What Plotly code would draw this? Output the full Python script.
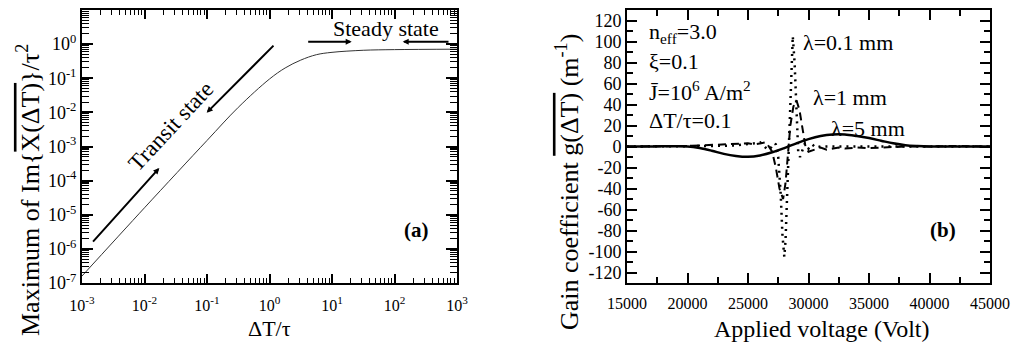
import plotly.graph_objects as go

# ---------------- data ----------------
# (a) maximum of Im{X(dT)} / tau^2 vs dT/tau
dt_ratio = [0.001, 0.01, 0.1, 0.316, 1.0, 1.78, 3.16, 5.62, 10.0, 31.6, 100.0, 1000.0]
max_im = [1.6e-7, 1.6e-5, 1.5e-3, 0.014, 0.095, 0.2, 0.34, 0.49, 0.575, 0.66, 0.69, 0.71]

# (b) gain coefficient vs applied voltage
v_5mm = [15000, 17000, 19000, 20000, 21000, 22000, 23000, 24000, 25000, 26000, 27000, 28000,
         29000, 30000, 31000, 32000, 33000, 34000, 35000, 36000, 37000, 38000, 39000, 40000, 45000]
g_5mm = [0, 0, 0.3, 0, -1.5, -4, -7, -9, -9.8, -8.5, -5.5, -1.5,
         3, 7, 10, 11.5, 11.5, 10, 8, 5.5, 3, 1.2, 0.4, 0, 0]

v_1mm = [15000, 18000, 20000, 21000, 22000, 23000, 24000, 25000, 25500, 26000, 26500, 27000,
         27300, 27600, 27900, 28100, 28300, 28500, 28750, 29000, 29250, 29500, 29750, 30000,
         30500, 31000, 31500, 32000, 32500, 33000, 34000, 35000, 36000, 37000, 38000, 40000, 42000, 45000]
g_1mm = [0, 0, 0.5, 1, 1.5, 2, 2.5, 3, 2, 3, 4, -5,
         -20, -40, -50, -35, -5, 20, 38, 44, 35, 15, 0, -5,
         -3, -1, -3, -2, -1, -2, -1, -1.5, -1, -0.5, 0, 0, 0.5, 0]

v_01mm = [15000, 20000, 22000, 24000, 25000, 25500, 26000, 26300, 26600, 26900, 27100, 27300,
          27500, 27700, 27850, 28000, 28100, 28250, 28400, 28550, 28700, 28850, 29000, 29150,
          29300, 29500, 29700, 30000, 30300, 30600, 31000, 45000]
g_01mm = [0, 0, 0.5, 1, 2, 3, 4, 1, -3, -1, 3, 2,
          -10, -45, -85, -105, -90, -40, 10, 70, 105, 80, 30, -5,
          -10, -3, 3, -2, 2, -1, 0, 0]

a_xticks = [1e-3, 1e-2, 1e-1, 1e0, 1e1, 1e2, 1e3]
a_xtext = ["10<sup>-3</sup>", "10<sup>-2</sup>", "10<sup>-1</sup>", "10<sup>0</sup>",
           "10<sup>1</sup>", "10<sup>2</sup>", "10<sup>3</sup>"]
a_yticks = [1e-7, 1e-6, 1e-5, 1e-4, 1e-3, 1e-2, 1e-1, 1e0, 1e1]
a_ytext = ["10<sup>-7</sup>", "10<sup>-6</sup>", "10<sup>-5</sup>", "10<sup>-4</sup>",
           "10<sup>-3</sup>", "10<sup>-2</sup>", "10<sup>-1</sup>", "10<sup>0</sup>", "10<sup>1</sup>"]
b_xticks = [15000, 20000, 25000, 30000, 35000, 40000, 45000]
b_xtext = ["15000", "20000", "25000", "30000", "35000", "40000", "45000"]
b_yticks = [-120, -100, -80, -60, -40, -20, 0, 20, 40, 60, 80, 100, 120]
b_ytext = ["-120", "-100", "-80", "-60", "-40", "-20", "0", "20", "40", "60", "80", "100", "120"]

# ---------------- figure ----------------
W, H = 1015, 346
FONT = "Liberation Serif, Times New Roman, serif"
BLACK = "#000000"

def px(x):
    return x / W

def py(y):
    return 1 - y / H

fig = go.Figure()

fig.add_trace(go.Scatter(x=dt_ratio, y=max_im, mode="lines", line=dict(color="#333333", width=1, shape="spline"),
                         xaxis="x", yaxis="y", showlegend=False))

fig.add_trace(go.Scatter(x=v_5mm, y=g_5mm, mode="lines", line=dict(color=BLACK, width=2.5, shape="spline"),
                         xaxis="x2", yaxis="y2", showlegend=False))
fig.add_trace(go.Scatter(x=v_1mm, y=g_1mm, mode="lines", line=dict(color=BLACK, width=2, dash="8px,5px"),
                         xaxis="x2", yaxis="y2", showlegend=False))
fig.add_trace(go.Scatter(x=v_01mm, y=g_01mm, mode="lines", line=dict(color=BLACK, width=2.5, dash="2px,5px"),
                         xaxis="x2", yaxis="y2", showlegend=False))

minor_a_x = [m * 10 ** e for e in range(-3, 3) for m in range(2, 10)]
minor_a_y = [m * 10 ** e for e in range(-7, 1) for m in range(2, 10)]

ydom = [py(283), py(10)]

axis_common = dict(showgrid=False, zeroline=False, showline=True, linecolor=BLACK, linewidth=2,
                   mirror="allticks", ticks="inside", tickcolor=BLACK, tickwidth=1.5,
                   automargin=False)

fig.update_layout(
    template="none",
    width=W, height=H,
    margin=dict(l=0, r=0, t=0, b=0, pad=0),
    paper_bgcolor="white", plot_bgcolor="white",
    font=dict(family=FONT, color=BLACK),
    xaxis=dict(axis_common, type="log", domain=[px(82), px(457)], range=[-3, 3], anchor="y",
               tickmode="array", tickvals=a_xticks, ticktext=a_xtext, ticklen=9,
               ticklabelstandoff=7,
               tickfont=dict(size=16, family=FONT),
               minor=dict(tickmode="array", tickvals=minor_a_x, ticks="inside", ticklen=5,
                          tickcolor=BLACK, tickwidth=1.2)),
    yaxis=dict(axis_common, type="log", domain=ydom, range=[-7, 1], anchor="x",
               tickmode="array", tickvals=a_yticks, ticktext=a_ytext, ticklen=11,
               tickfont=dict(size=18, family=FONT),
               minor=dict(tickmode="array", tickvals=minor_a_y, ticks="inside", ticklen=7,
                          tickcolor=BLACK, tickwidth=1.2)),
    xaxis2=dict(axis_common, domain=[px(627), px(990)], range=[15000, 45000], anchor="y2",
                tickmode="array", tickvals=b_xticks, ticktext=b_xtext, ticklen=10,
                ticklabelstandoff=5,
                tickfont=dict(size=16, family=FONT),
                minor=dict(dtick=2500, tick0=15000, ticks="inside", ticklen=6, tickcolor=BLACK, tickwidth=1.5)),
    yaxis2=dict(axis_common, domain=ydom, range=[-130, 130], anchor="x2",
                tickmode="array", tickvals=b_yticks, ticktext=b_ytext, ticklen=10,
                tickfont=dict(size=18, family=FONT),
                minor=dict(dtick=10, tick0=0, ticks="inside", ticklen=6, tickcolor=BLACK, tickwidth=1.5)),
)

ann = []

def text_ann(x, y, text, size=22, angle=0, xanchor="center", yanchor="middle"):
    ann.append(dict(x=px(x), y=py(y), xref="paper", yref="paper", text=text, showarrow=False,
                    font=dict(size=size, family=FONT, color=BLACK), textangle=angle,
                    xanchor=xanchor, yanchor=yanchor))

# axis titles
text_ann(28, 190, "Maximum of Im{<span style='text-decoration:overline'>X(ΔT)</span>}/τ<sup>2</sup>",
         size=26, angle=-90)
text_ann(269, 328, "ΔT/τ", size=22)
text_ann(567, 182, "Gain coefficient <span style='text-decoration:overline'>g(ΔT)</span> (m<sup>-1</sup>)",
         size=26, angle=-90)
text_ann(822, 329, "Applied voltage (Volt)", size=24)

# panel (a) labels
text_ann(170.7, 126.7, "Transit state", size=23, angle=-47)
text_ann(386, 29, "Steady state", size=22)
text_ann(416, 230, "<b>(a)</b>", size=21)

# panel (b) labels
text_ann(647, 33, "n<sub>eff</sub>=3.0", size=22, xanchor="left")
text_ann(647, 62, "ξ=0.1", size=22, xanchor="left")
text_ann(647, 91, "J̄=10<sup>6</sup> A/m<sup>2</sup>", size=22, xanchor="left")
text_ann(647, 120, "ΔT/τ=0.1", size=22, xanchor="left")
text_ann(801, 42, "λ=0.1 mm", size=22, xanchor="left")
text_ann(811, 97, "λ=1 mm", size=22, xanchor="left")
text_ann(829, 128, "λ=5 mm", size=22, xanchor="left")
text_ann(943, 230, "<b>(b)</b>", size=21)

# arrows in panel (a) (log10 coordinates)
arrows = [
    ((-2.845, -5.83), (-1.763, -3.63)),
    ((0.088, 0.0), (-1.005, -2.01)),
    ((0.595, 0.068), (1.315, 0.068)),
    ((2.888, 0.068), (2.131, 0.068)),
]
for (tx, ty), (hx, hy) in arrows:
    ann.append(dict(x=hx, y=hy, xref="x", yref="y", ax=tx, ay=ty, axref="x", ayref="y",
                    text="", showarrow=True, arrowhead=2, arrowsize=0.6, arrowwidth=2,
                    arrowcolor=BLACK, standoff=0, startstandoff=0))

fig.update_layout(annotations=ann)

fig.write_html("out.html", config={"displayModeBar": False},
               post_script="document.body.style.margin='0px';document.body.style.padding='0px';")
